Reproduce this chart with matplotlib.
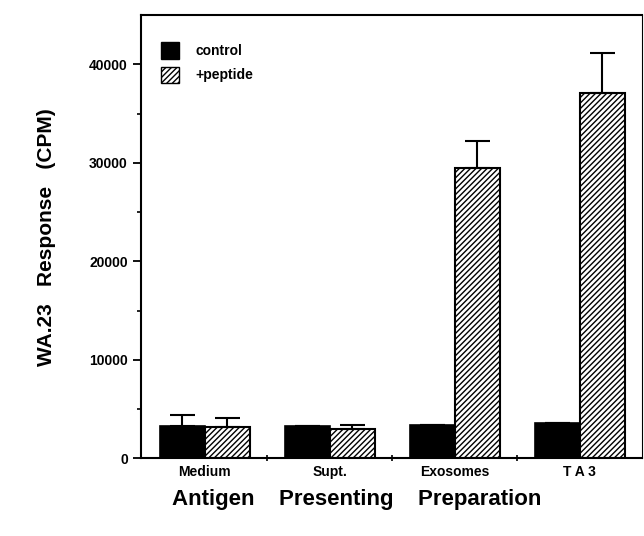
import numpy as np
import matplotlib
matplotlib.use('Agg')
import matplotlib.pyplot as plt
from matplotlib.patches import Patch

categories = ["Medium", "Supt.", "Exosomes", "T A 3"]
control = [3300, 3300, 3400, 3600]
control_err = [1100, 0, 0, 0]
peptide = [3200, 3000, 29500, 37100]
peptide_err = [900, 400, 2700, 4000]

plt.rcParams['font.family'] = ['Liberation Sans', 'DejaVu Sans']
plt.rcParams['font.weight'] = 'bold'
plt.rcParams['hatch.linewidth'] = 1.0

fig = plt.figure(figsize=(6.44, 5.36), dpi=100)
ax = fig.add_axes([0.219, 0.145, 0.778, 0.827])

x = np.arange(len(categories))
w = 0.36
ax.bar(x - w / 2, control, w, color='black', edgecolor='black', linewidth=1.2,
       yerr=[np.zeros(4), control_err], capsize=9,
       error_kw=dict(elinewidth=1.5, capthick=1.5, ecolor='black'))
ax.bar(x + w / 2, peptide, w, color='white', edgecolor='black', linewidth=1.5,
       hatch='//////', yerr=[np.zeros(4), peptide_err], capsize=9,
       error_kw=dict(elinewidth=1.5, capthick=1.5, ecolor='black'))

ax.set_xlim(-0.51, 3.5)
ax.set_ylim(0, 45000)
ax.set_yticks([0, 10000, 20000, 30000, 40000])
ax.set_yticks(np.arange(5000, 45000, 10000), minor=True)
ax.tick_params(axis='y', which='major', direction='out', length=6, width=1.3, labelsize=10)
ax.tick_params(axis='y', which='minor', direction='out', length=3, width=1.2)
ax.set_xticks(x)
ax.set_xticklabels(categories, fontsize=10, fontweight='bold')
ax.set_xticks([0.5, 1.5, 2.5], minor=True)
ax.tick_params(axis='x', which='major', length=0, pad=5)
ax.tick_params(axis='x', which='minor', direction='inout', length=5, width=1.2)

for s in ['left', 'bottom', 'top']:
    ax.spines[s].set_linewidth(1.5)
ax.spines['right'].set_linewidth(0.8)

ax.set_ylabel("WA.23   Response   (CPM)", fontsize=15, fontweight='bold', labelpad=24)
ax.set_xlabel("Antigen    Presenting    Preparation", fontsize=16, fontweight='bold')
ax.xaxis.set_label_coords(0.43, -0.07)

handles = [Patch(facecolor='black', edgecolor='black'),
           Patch(facecolor='white', edgecolor='black', hatch='//////')]
ax.legend(handles, ["control", "+peptide"], loc='upper left', frameon=False,
          handlelength=1.3, handleheight=1.4, handletextpad=1.2,
          borderaxespad=0.3, bbox_to_anchor=(0.02, 0.96), labelspacing=0.6,
          prop={'weight': 'bold', 'size': 10})

fig.savefig("out.png", dpi=100)
